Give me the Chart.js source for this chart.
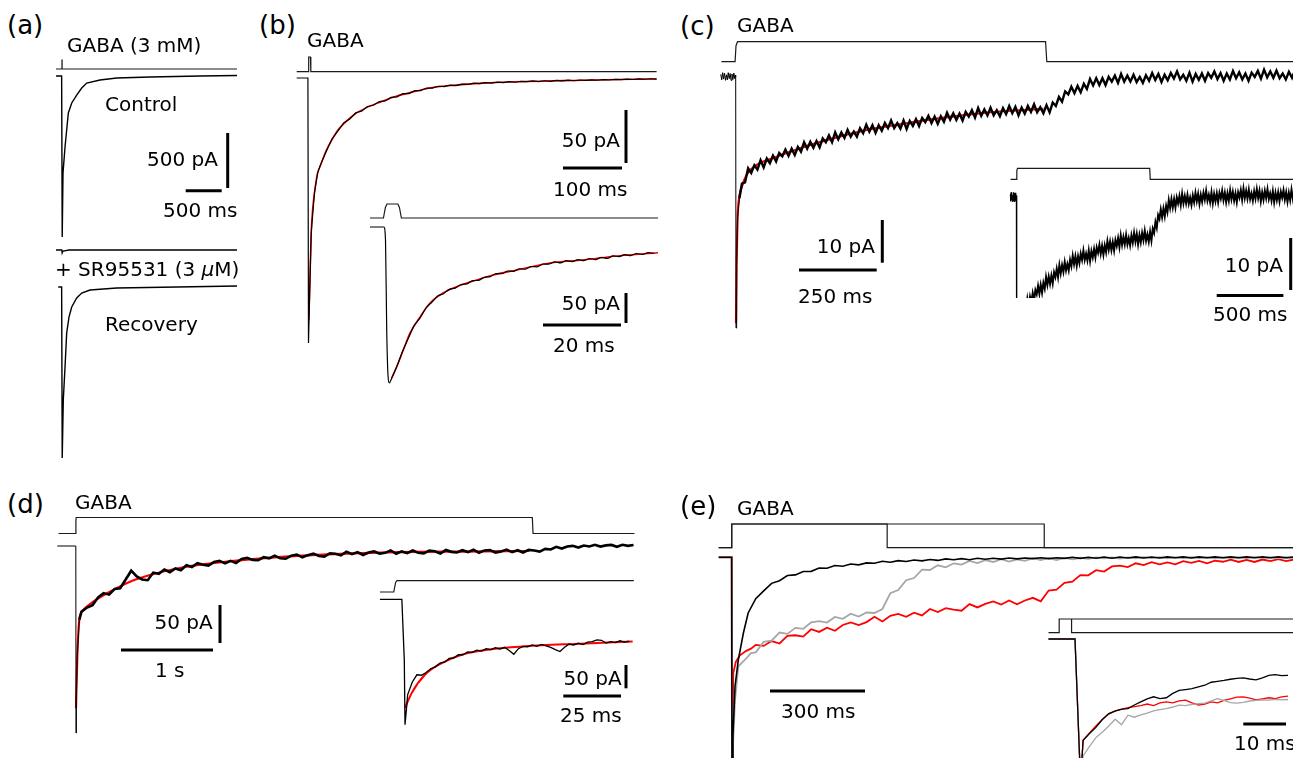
<!DOCTYPE html>
<html>
<head>
<meta charset="utf-8">
<title>GABA-evoked currents</title>
<script src="https://cdn.jsdelivr.net/npm/chart.js@4.4.1/dist/chart.umd.min.js"></script>
<style>
  body { margin: 0; background: #fff; }
  #fig { position: relative; width: 1293px; height: 758px; overflow: hidden; font-family: "DejaVu Sans", sans-serif; color: #000; }
  #fig canvas { position: absolute; }
  .lbl { position: absolute; white-space: nowrap; line-height: 1; font-size: 20px; transform: translateY(-50%); }
</style>
</head>
<body>
<div id="fig"></div>
<script>
// ---- (a) 3 mM GABA: control, + SR95531, recovery  (ms, pA)
const aPulseT = [-83, 0, 0, 1.5, 1.5, 2431];
const aPulseOn = [0, 0, 1, 1, 0, 0];
const aControlT = [-83, -5, 3, 14, 42, 69, 88, 135, 204, 274, 343, 528, 760, 1222, 1917, 2431];
const aControlI = [0, 0, -1464, -882, -645, -464, -336, -245, -173, -109, -64, -36, -18, -9, 0, 5];
const aBlockT = [-83, -3, 2, 14, 100, 2431];
const aBlockI = [0, 0, -27, -9, 0, 0];
const aRecoveryT = [-52, -5, 3, 18, 42, 65, 97, 135, 204, 274, 389, 760, 2431];
const aRecoveryI = [0, 0, -1554, -1027, -727, -418, -273, -182, -100, -55, -27, -9, 9];
const aBarMs = 500, aBarPa = 500;

// ---- (b) brief GABA pulse, fast deactivation  (ms, pA)
const bPulseT = [-20, -0.4, 0.1, 0.5, 3.3, 3.7, 4.2, 590];
const bPulseOn = [0, 0, 0.75, 1, 1, 0.75, 0, 0];
const bOnsetT = [-20, -1, 0, 1.7, 4.6, 10.2, 15.3];
const bOnsetI = [0, 0, -250, -209, -146, -108, -90];
const bRecordT0 = 20, bRecordDt = 10;
const bRecordI = [-82.2, -69.4, -57.3, -49.8, -42.1, -38.6, -32.8, -31.3, -26.9, -25.7,
  -22.2, -21.6, -18.3, -17.8, -14.7, -14.7, -11.9, -12.0, -9.5, -9.6,
  -7.8, -8.2, -6.8, -7.2, -5.8, -6.1, -4.9, -5.3, -4.3, -4.8,
  -3.9, -4.3, -3.5, -4.0, -3.1, -3.5, -2.8, -3.4, -2.6, -3.1,
  -2.3, -2.8, -2.1, -2.6, -1.9, -2.3, -1.7, -2.1, -1.5, -1.9,
  -1.3, -1.6, -1.1, -1.4, -0.9, -1.2, -0.7, -1.0];
const bFitT = [0.6, 2, 4.6, 7, 10.2, 15.3, 20, 30, 40, 50, 60, 80, 100, 120, 150, 180, 210, 250, 300, 350, 400, 450, 500, 550, 590];
const bFitI = [-228, -200, -146, -124, -108, -90, -83, -68.5, -58, -49, -43, -33.5, -27.5, -23, -17, -12.7, -9, -6.7, -4.6, -3.6, -2.9, -2.3, -1.7, -1.2, -0.9];
const bInsetOnsetT = [-3.85, -0.3, 0.13, 0.44, 0.77, 1.1, 1.72, 3.0];
const bInsetOnsetI = [0, 0, -22, -172, -247, -260, -252, -233];
const bInsetT0 = 4.5, bInsetDt = 1.5;
const bInsetI = [-207, -185.5, -164, -151.5, -135, -125.5, -115, -111.2, -104, -101.8,
  -95.8, -94.7, -89.4, -88.9, -83.8, -82.7, -77.6, -77.9, -73.3, -73.8,
  -69.6, -70.4, -65.8, -66.3, -61.7, -61.8, -58.2, -59.9, -56.2, -57.8,
  -54.3, -56.0, -52.5, -54.3, -50.6, -52.3, -48.2, -49.4, -46.0, -47.8,
  -44.2, -45.8, -42.6, -43.9];
const bInsetFitT = [1.7, 3, 4.7, 6.4, 9, 11.5, 14.9, 18.4, 23.5, 27.7, 33.8, 42.3, 50.8, 59.4, 70];
const bInsetFitI = [-252, -233, -205, -177, -150, -127, -110, -99.5, -88.3, -80, -71.7, -60, -55, -48.3, -42.8];
const bBarMs = 100, bBarPa = 50, bInsetBarMs = 20, bInsetBarPa = 50;

// ---- (c) 1 s GABA, desensitisation and off relaxation  (ms, pA)
const cPulseT = [-46, -2, 1, 6, 997, 1001, 2100];
const cPulseOn = [0, 0, 0.8, 1, 1, 0, 0];
const cOnsetT = [-48, -45, -42, -39, -36, -33, -30, -27, -24, -21, -18, -15, -12, -9, -6, -3, -1, 0, 1, 3, 6, 12];
const cOnsetI = [0.5, -0.8, 0.9, -0.6, 0.8, -0.9, 0.4, -0.8, 0.9, -0.5, 0.7, -0.9, 0.6, -0.7, 0.8, -0.5, 0.3, 0, -58.9, -44, -33, -28.5];
const cRecordT0 = 20, cRecordDt = 10;
const cRecordI = [
  -25.1, -24.8, -21.5, -22.6, -20.8, -21.8, -19.6, -21.3, -19.2, -20.3,
  -18.5, -19.9, -17.9, -18.7, -17.1, -18.6, -16.9, -18.4, -16.5, -17.6,
  -15.4, -16.9, -15.3, -16.7, -15.1, -16.6, -14.5, -15.4, -13.8, -15.4,
  -13.1, -14.7, -13.1, -14.4, -12.5, -14.1, -12.9, -14.1, -12.1, -13.3,
  -11.3, -12.9, -11.4, -13.2, -11.4, -12.7, -10.9, -12.1, -10.3, -12.1,
  -10.9, -12.2, -10.3, -12.3, -10.4, -11.6, -10.0, -11.6, -9.7, -10.7,
  -9.2, -10.9, -9.4, -11.1, -9.3, -10.6, -8.5, -10.1, -8.6, -10.2,
  -8.7, -10.3, -8.3, -9.4, -7.9, -9.6, -7.4, -9.2, -7.7, -9.1,
  -7.3, -9.1, -7.9, -9.3, -7.4, -8.8, -6.9, -8.6, -7.1, -9.1,
  -7.3, -8.7, -6.9, -8.3, -6.5, -8.4, -7.2, -8.6, -6.7, -8.4,
  -6.1, -6.9, -4.8, -5.9, -3.5, -4.2, -2.4, -3.9, -2.2, -3.7,
  -1.7, -2.9, -0.6, -2.1, -0.4, -2.0, -0.4, -2.0, -0.1, -1.2,
  0.2, -1.5, 0.6, -1.2, 0.2, -1.2, 0.4, -1.3, -0.1, -1.5,
  0.3, -1.0, 0.8, -0.8, 0.6, -1.3, 0.4, -0.9, 0.8, -0.5,
  1.2, -0.7, 0.4, -1.0, 0.9, -1.2, 0.6, -0.8, 0.7, -1.0,
  0.8, -0.3, 1.2, -0.6, 0.8, -1.0, 0.7, -0.7, 1.3, -0.4,
  1.0, -0.7, 0.7, -1.0, 0.9, -0.1, 1.3, -0.5, 1.6, -0.2,
  1.2, -0.3, 1.4, -0.4, 0.7, -0.7, 1.1, -0.3, 1.5, -0.2,
  1.2, -0.8, 0.9, -0.5, 1.2, -0.2, 1.5, -0.4, 0.7, -0.7,
  1.1, -1.0, 0.8, -0.6, 0.9, -0.8, 1.0, -0.1, 1.3, -0.5,
  0.9, -0.9, 0.8, -0.6, 1.4, -0.3, 1.1];
const cFitT = [1, 3.2, 6.4, 11.6, 19.3, 35.4, 67.6, 121, 207, 313, 422, 529, 635, 743, 851, 990];
const cFitI = [-57.8, -43.6, -32.8, -28.2, -25.9, -23.0, -20.7, -19.1, -16.8, -14.5, -12.5, -11.2, -10.0, -9.0, -8.2, -7.6];
const cOffFitT = [1000, 1050, 1100, 1150, 1200, 1275, 1350, 1450, 1600, 1800, 2080];
const cOffFitI = [-7.5, -5.1, -3.4, -2.3, -1.5, -0.8, -0.3, 0.1, 0.4, 0.6, 0.65];
const cBarMs = 250, cBarPa = 10, cInsetBarMs = 500, cInsetBarPa = 10;

// ---- (d) 5 s GABA  (ms, pA)
const dPulseT = [-190, -3, -1, 2, 4960, 4968, 6070];
const dPulseOn = [0, 0, 0.8, 1, 1, 0, 0];
const dOnsetT = [-203, -2, 0, 4, 14, 36];
const dOnsetI = [0, 0, -246, -200, -145, -97];
const dRecordT0 = 60, dRecordDt = 60;
const dRecordI = [-86.5, -81.0, -78.0, -67.5, -62.0, -64.0, -56.5, -55.5, -44.0, -32.5,
  -40.0, -44.0, -45.0, -35.0, -36.5, -31.0, -34.5, -29.5, -31.8, -25.4,
  -27.7, -22.7, -24.7, -25.7, -20.9, -19.6, -22.8, -19.5, -22.3, -17.1,
  -15.5, -18.3, -18.8, -14.7, -16.2, -12.7, -16.2, -16.7, -12.8, -11.3,
  -14.9, -12.0, -10.1, -13.2, -13.9, -9.5, -10.2, -12.4, -7.6, -10.8,
  -8.1, -11.8, -8.6, -6.9, -10.2, -9.0, -5.8, -10.2, -7.1, -9.5,
  -5.9, -8.8, -9.7, -6.1, -7.0, -9.9, -5.3, -7.7, -8.6, -5.5,
  -8.0, -4.9, -8.9, -5.8, -5.3, -8.7, -7.2, -4.7, -8.1, -5.6,
  -8.6, -5.1, -5.9, -7.3, -3.8, -4.6, -1.1, -3.3, -0.7, 0.2,
  -2.0, 0.7, -0.6, 1.5, -0.8, 0.8, 1.4, -1.0, 1.6, 0.2,
  1.3];
const dFitT = [0, 14, 36, 79, 188, 370, 587, 804, 1166, 1529, 1891, 2616, 3413, 4200, 4924];
const dFitI = [-213.6, -145.7, -97.4, -84.2, -73.3, -60.1, -47.0, -38.2, -28.0, -22.0, -17.5, -11.8, -8.3, -7.3, -6.6];
const dInsetPulseT = [-10, -4, -3.2, -2.6, 100];
const dInsetPulseOn = [0, 0, 0.85, 1, 1];
const dInsetOnsetT = [-10, -0.5, 0.56, 0.87, 1.6];
const dInsetOnsetI = [0, 0, -130, -269, -230];
const dInsetT0 = 2, dInsetDt = 2;
const dInsetI = [-205, -178, -162, -163, -157, -149, -145, -137, -135, -127,
  -126, -119, -119, -113, -114, -109, -111, -106, -108, -104,
  -107, -103, -110, -118, -106, -101, -102, -98, -101, -97,
  -100, -103, -108, -112, -103, -96, -98, -94, -97, -92,
  -91, -87, -88, -94, -91, -93, -89, -92, -90];
const dInsetFitT = [0.87, 3.77, 9.5, 16.8, 25.4, 38.4, 52.8, 74.5, 99.5];
const dInsetFitI = [-233, -201, -162, -137, -119, -107, -101, -95.7, -90.7];
const dBarMs = 1000, dBarPa = 50, dInsetBarMs = 25, dInsetBarPa = 50;

// ---- (e) 500 ms vs 1 s GABA, normalised currents (ms, I/Ipeak)
const ePulseShortT = [-42, -0.8, -0.8, 490, 490, 1780];
const ePulseLongT = [-42, -0.8, -0.8, 986, 986, 1780];
const ePulseOn = [0, 0, 1, 1, 0, 0];
const eBlackOnsetT = [-42, -1, 0, 3, 9.5, 20, 36, 51];
const eBlackOnsetI = [0, 0, -1, -0.8, -0.58, -0.46, -0.34, -0.25];
const eGrayOnsetT = [-42, -1, 0, 3, 9.5, 20, 41, 60];
const eGrayOnsetI = [0, 0, -1, -0.85, -0.64, -0.49, -0.46, -0.43];
const eRedOnsetT = [-42, -1, 0, 2, 4, 12, 25, 45, 60];
const eRedOnsetI = [0, 0, -1, -0.8, -0.52, -0.47, -0.44, -0.42, -0.41];
const eRecordT0 = 75, eRecordDt = 25;
const eBlackI = [-0.186, -0.151, -0.117, -0.105, -0.082, -0.079, -0.064, -0.063, -0.048, -0.049,
  -0.037, -0.040, -0.030, -0.034, -0.025, -0.027, -0.018, -0.022, -0.015, -0.019,
  -0.012, -0.016, -0.010, -0.014, -0.007, -0.011, -0.006, -0.011, -0.004, -0.009,
  -0.004, -0.008, -0.003, -0.007, -0.003, -0.006, -0.002, -0.006, -0.002, -0.005,
  0.000, -0.005, 0.000, -0.004, 0.001, -0.004, 0.001, -0.003, 0.002, -0.003,
  0.001, -0.003, 0.002, -0.002, 0.002, -0.003, 0.002, -0.002, 0.002, -0.002,
  0.002, -0.002, 0.002, -0.002, 0.002, -0.002, 0.002, -0.002, 0.001];
const eGrayI = [-0.427, -0.380, -0.374, -0.338, -0.344, -0.317, -0.321, -0.292, -0.287, -0.293,
  -0.268, -0.276, -0.253, -0.266, -0.248, -0.250, -0.232, -0.161, -0.147, -0.103,
  -0.093, -0.055, -0.057, -0.036, -0.045, -0.027, -0.033, -0.016, -0.026, -0.013,
  -0.021, -0.008, -0.019, -0.009, -0.016, -0.004, -0.012, -0.004, -0.012, -0.003,
  -0.009, -0.002, -0.007, 0.000, -0.005, 0.000, -0.006, 0.000, -0.005, 0.001,
  -0.004, 0.001, -0.005, 0.000, -0.004, 0.001, -0.004, 0.000, -0.005, 0.000,
  -0.004, 0.000, -0.004, 0.001, -0.004, 0.000, -0.004, 0.000, -0.002];
const eRedI = [-0.393, -0.398, -0.376, -0.387, -0.353, -0.350, -0.356, -0.323, -0.335, -0.316,
  -0.330, -0.304, -0.292, -0.304, -0.291, -0.267, -0.288, -0.263, -0.254, -0.267,
  -0.249, -0.261, -0.232, -0.246, -0.228, -0.235, -0.240, -0.210, -0.225, -0.209,
  -0.198, -0.212, -0.194, -0.211, -0.194, -0.182, -0.198, -0.149, -0.145, -0.115,
  -0.109, -0.080, -0.081, -0.058, -0.064, -0.041, -0.037, -0.044, -0.027, -0.035,
  -0.022, -0.032, -0.023, -0.032, -0.017, -0.025, -0.016, -0.027, -0.015, -0.020,
  -0.011, -0.021, -0.012, -0.021, -0.010, -0.017, -0.008, -0.017, -0.010];
const eInsetPulseT = [-6.6, -4.1, -4.1, 51];
const eInsetPulseOn = [0, 0, 1, 1];
const eInsetPulse2T = [-1.2, -1.2, 51];
const eInsetPulse2On = [1, 0, 0];
const eInsetOnsetT = [-6.6, -0.4, 0.9];
const eInsetOnsetI = [0, 0, -1.05];
const eInsetT0 = 1.5, eInsetDt = 1.5;
const eInsetBlackI = [-0.745, -0.695, -0.650, -0.592, -0.548, -0.530, -0.515, -0.512, -0.485, -0.462,
  -0.440, -0.425, -0.438, -0.432, -0.400, -0.378, -0.372, -0.365, -0.352, -0.340,
  -0.318, -0.312, -0.305, -0.296, -0.290, -0.286, -0.294, -0.300, -0.285, -0.268,
  -0.262, -0.270, -0.268];
const eInsetGrayI = [-0.860, -0.790, -0.725, -0.685, -0.640, -0.590, -0.630, -0.560, -0.575, -0.558,
  -0.545, -0.528, -0.520, -0.512, -0.500, -0.486, -0.490, -0.480, -0.476, -0.472,
  -0.455, -0.438, -0.452, -0.468, -0.472, -0.466, -0.456, -0.452, -0.447, -0.450,
  -0.444, -0.448, -0.445];
const eInsetRedI = [-0.745, -0.690, -0.640, -0.592, -0.552, -0.528, -0.518, -0.505, -0.498, -0.490,
  -0.478, -0.490, -0.470, -0.462, -0.470, -0.455, -0.450, -0.470, -0.485, -0.478,
  -0.462, -0.470, -0.452, -0.440, -0.428, -0.425, -0.435, -0.448, -0.440, -0.432,
  -0.438, -0.425, -0.420];
const eBarMs = 300, eInsetBarMs = 10;

// ---------------------------------------------------------------------------
const fig = document.getElementById('fig');
const BLACK = '#000', RED = '#ff0000', GRAY = '#a6a6a6', OFFWHITE = '#f4f4f4', CMD = '#1a1a1a';

const pts = (ts, vs) => ts.map((t, k) => ({ x: t, y: vs[k] }));
const grid = (t0, dt, vs) => vs.map((v, k) => ({ x: t0 + k * dt, y: v }));
const msText = ms => (ms >= 1000 ? ms / 1000 + ' s' : ms + ' ms');

function lineSet(data, s) {
  const set = {
    data, showLine: true, borderColor: s.color, borderWidth: s.width,
    pointRadius: 0, borderCapStyle: 'butt', borderJoinStyle: 'miter'
  };
  if (s.smooth) set.cubicInterpolationMode = 'monotone';
  if (s.thinUntil !== undefined) {
    set.segment = { borderWidth: c => (c.p1.parsed.x <= s.thinUntil ? 1 : s.width) };
  }
  return set;
}

// box: canvas [left, top, width, height]; zero: pixel of (0 ms, 0 pA); perPx: units per pixel
function panel(box, zero, perPx) {
  const [x0, y0] = zero, [kx, ky] = perPx;
  const toT = px => (px - x0) * kx;
  const toI = py => (y0 - py) * ky;
  const sets = [];
  return {
    trace(points, row, style) {
      const off = toI(row);
      sets.push(lineSet(points.map(p => ({ x: p.x, y: p.y + off })), style));
    },
    pulse(ts, on, row, heightPx) {
      const off = toI(row);
      sets.push(lineSet(ts.map((t, k) => ({ x: t, y: off + on[k] * heightPx * ky })), { color: CMD, width: 1.2 }));
    },
    hbar(x, y, len) {
      sets.push(lineSet([{ x: toT(x), y: toI(y) }, { x: toT(x) + len, y: toI(y) }], { color: BLACK, width: 3 }));
    },
    vbar(x, y, len) {
      sets.push(lineSet([{ x: toT(x), y: toI(y) }, { x: toT(x), y: toI(y) + len }], { color: BLACK, width: 3 }));
    },
    render() {
      const cv = document.createElement('canvas');
      cv.width = box[2]; cv.height = box[3];
      cv.style.left = box[0] + 'px'; cv.style.top = box[1] + 'px';
      fig.appendChild(cv);
      new Chart(cv, {
        type: 'scatter',
        data: { datasets: sets },
        options: {
          responsive: false, animation: false, events: [],
          layout: { padding: 0 },
          plugins: { legend: { display: false }, tooltip: { enabled: false } },
          scales: {
            x: { type: 'linear', display: false, min: toT(box[0]), max: toT(box[0] + box[2]) },
            y: { type: 'linear', display: false, min: toI(box[1] + box[3]), max: toI(box[1]) }
          }
        }
      });
    }
  };
}

function label(html, x, y, align, size) {
  const el = document.createElement('div');
  el.className = 'lbl';
  el.innerHTML = html;
  if (align === 'r') el.style.right = (1293 - x) + 'px'; else el.style.left = x + 'px';
  el.style.top = y + 'px';
  if (size) el.style.fontSize = size + 'px';
  fig.appendChild(el);
}

// (a)
const pa = panel([40, 50, 210, 420], [62, 76], [500 / 36, 500 / 55]);
pa.pulse(aPulseT, aPulseOn, 69, 9);
pa.trace(pts(aControlT, aControlI), 76, { color: BLACK, width: 1.4 });
pa.trace(pts(aBlockT, aBlockI), 250, { color: BLACK, width: 1.3 });
pa.trace(pts(aRecoveryT, aRecoveryI), 287, { color: BLACK, width: 1.4 });
pa.hbar(185.7, 190.7, aBarMs);
pa.vbar(227.7, 188, aBarPa);
pa.render();

// (b) main and inset
const pb = panel([290, 45, 375, 310], [308.5, 78], [100 / 59, 50 / 53]);
pb.pulse(bPulseT, bPulseOn, 71.7, 14.7);
pb.trace(pts(bOnsetT, bOnsetI).concat(grid(bRecordT0, bRecordDt, bRecordI)), 78, { color: BLACK, width: 1.2 });
pb.trace(pts(bFitT, bFitI), 78, { color: RED, width: 1.6, smooth: true });
pb.hbar(563, 168, bBarMs);
pb.vbar(626, 163, bBarPa);
pb.render();

const pbi = panel([370, 195, 288, 195], [385, 227], [20 / 78, 50 / 30]);
pbi.pulse(bPulseT, bPulseOn, 218, 14);
pbi.trace(pts(bInsetOnsetT, bInsetOnsetI).concat(grid(bInsetT0, bInsetDt, bInsetI)), 227, { color: BLACK, width: 1.2, smooth: true });
pbi.trace(pts(bInsetFitT, bInsetFitI), 227, { color: RED, width: 1.6, smooth: true });
pbi.hbar(543, 325, bInsetBarMs);
pbi.vbar(626, 323, bInsetBarPa);
pbi.render();

// (c) main and inset share the record
const cTrace = pts(cOnsetT, cOnsetI).concat(grid(cRecordT0, cRecordDt, cRecordI));
const pc = panel([715, 35, 578, 300], [735.7, 76.5], [250 / 77.7, 10 / 42.7]);
pc.pulse(cPulseT, cPulseOn, 61.7, 20);
pc.trace(cTrace, 76.5, { color: BLACK, width: 2.4, thinUntil: 14 });
pc.trace(pts(cFitT, cFitI), 76.5, { color: RED, width: 2.2, smooth: true });
pc.hbar(799, 270, cBarMs);
pc.vbar(882.3, 262.7, cBarPa);
pc.render();

const pci = panel([1008, 160, 285, 138], [1016.7, 197], [500 / 66.7, 10 / 52]);
pci.pulse(cPulseT, cPulseOn, 179.3, 11);
pci.trace(cTrace, 197, { color: BLACK, width: 2, thinUntil: 14 });
pci.trace(pts(cFitT, cFitI), 197, { color: RED, width: 2, smooth: true });
pci.trace(pts(cOffFitT, cOffFitI), 197, { color: OFFWHITE, width: 2.2, smooth: true });
pci.hbar(1216.7, 295.5, cInsetBarMs);
pci.vbar(1290.7, 290, cInsetBarPa);
pci.render();

// (d) main and inset
const pd = panel([50, 505, 600, 245], [76, 546], [1000 / 92, 50 / 38]);
pd.pulse(dPulseT, dPulseOn, 533.5, 16);
pd.trace(pts(dOnsetT, dOnsetI).concat(grid(dRecordT0, dRecordDt, dRecordI)), 546, { color: BLACK, width: 2.6, thinUntil: 40 });
pd.trace(pts(dFitT, dFitI), 546, { color: RED, width: 2.2, smooth: true });
pd.hbar(121, 650, dBarMs);
pd.vbar(220, 643, dBarPa);
pd.render();

const pdi = panel([378, 575, 262, 160], [403, 599.3], [25 / 57.7, 50 / 23.3]);
pdi.pulse(dInsetPulseT, dInsetPulseOn, 592, 11.3);
pdi.trace(pts(dInsetOnsetT, dInsetOnsetI).concat(grid(dInsetT0, dInsetDt, dInsetI)), 599.3, { color: BLACK, width: 1.3 });
pdi.trace(pts(dInsetFitT, dInsetFitI), 599.3, { color: RED, width: 2, smooth: true });
pdi.hbar(563.3, 696, dInsetBarMs);
pdi.vbar(626, 688.3, dInsetBarPa);
pdi.render();

// (e) main and inset
const pe = panel([715, 515, 578, 243], [732, 557.3], [300 / 95, 1 / 222.7]);
pe.pulse(ePulseShortT, ePulseOn, 547.7, 23.7);
pe.pulse(ePulseLongT, ePulseOn, 547.7, 23.7);
pe.trace(pts(eBlackOnsetT, eBlackOnsetI).concat(grid(eRecordT0, eRecordDt, eBlackI)), 557.3, { color: BLACK, width: 1.6 });
pe.trace(pts(eGrayOnsetT, eGrayOnsetI).concat(grid(eRecordT0, eRecordDt, eGrayI)), 557.3, { color: GRAY, width: 1.8 });
pe.trace(pts(eRedOnsetT, eRedOnsetI).concat(grid(eRecordT0, eRecordDt, eRedI)), 557.3, { color: RED, width: 1.8 });
pe.hbar(770, 691, eBarMs);
pe.render();

const pei = panel([1045, 612, 248, 146], [1076.7, 639], [10 / 42.7, 1 / 136]);
pei.pulse(eInsetPulseT, eInsetPulseOn, 632.7, 13.7);
pei.pulse(eInsetPulse2T, eInsetPulse2On, 632.7, 13.7);
const eOn = pts(eInsetOnsetT, eInsetOnsetI);
pei.trace(eOn.concat(grid(eInsetT0, eInsetDt, eInsetBlackI)), 639, { color: BLACK, width: 1.3 });
pei.trace(eOn.concat(grid(eInsetT0, eInsetDt, eInsetGrayI)), 639, { color: GRAY, width: 1.3 });
pei.trace(eOn.concat(grid(eInsetT0, eInsetDt, eInsetRedI)), 639, { color: RED, width: 1.3 });
pei.hbar(1243.3, 724, eInsetBarMs);
pei.render();

// text
label('(a)', 7, 25, 'l', 26);
label('GABA (3 mM)', 67, 45, 'l');
label('Control', 105, 104, 'l');
label(aBarPa + ' pA', 218, 159, 'r');
label(msText(aBarMs), 163, 210, 'l');
label('+ SR95531 (3 <i>\u03bc</i>M)', 55, 269, 'l');
label('Recovery', 105, 324, 'l');

label('(b)', 259, 25, 'l', 26);
label('GABA', 307, 40, 'l');
label(bBarPa + ' pA', 620, 140, 'r');
label(msText(bBarMs), 553, 189, 'l');
label(bInsetBarPa + ' pA', 620, 303, 'r');
label(msText(bInsetBarMs), 553, 345, 'l');

label('(c)', 680, 26, 'l', 26);
label('GABA', 737, 25, 'l');
label(cBarPa + ' pA', 875, 246, 'r');
label(msText(cBarMs), 798, 296, 'l');
label(cInsetBarPa + ' pA', 1283, 265, 'r');
label(msText(cInsetBarMs), 1213, 314, 'l');

label('(d)', 7, 504, 'l', 26);
label('GABA', 75, 502, 'l');
label(dBarPa + ' pA', 212.7, 622, 'r');
label(msText(dBarMs), 155, 670, 'l');
label(dInsetBarPa + ' pA', 621.7, 678, 'r');
label(msText(dInsetBarMs), 560, 715, 'l');

label('(e)', 680, 506, 'l', 26);
label('GABA', 737, 508, 'l');
label(msText(eBarMs), 781, 711, 'l');
label(msText(eInsetBarMs), 1234, 743, 'l');
</script>
</body>
</html>
